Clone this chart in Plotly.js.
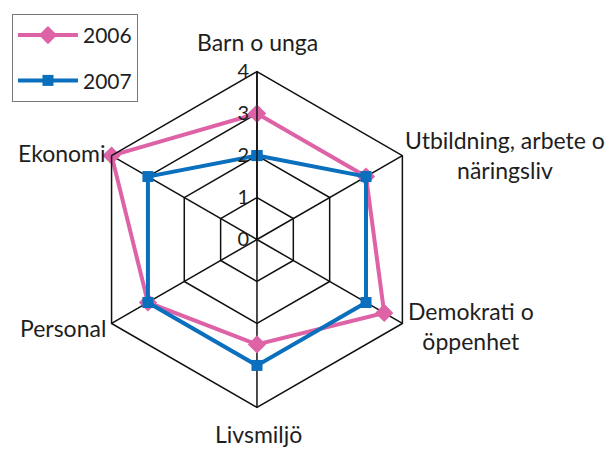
<!DOCTYPE html>
<html><head><meta charset="utf-8">
<script src="https://cdn.plot.ly/plotly-3.0.1.min.js"></script>
<style>html,body{margin:0;padding:0;background:#fff}#c{width:608px;height:450px}</style>
</head><body><div id="c"></div>
<script>
const categories = ["Barn o unga", "Utbildning, arbete o<br>näringsliv", "Demokrati o<br>öppenhet", "Livsmiljö", "Personal", "Ekonomi"];
const values2006 = [3, 3, 3.5, 2.5, 3, 4];
const values2007 = [2, 3, 3, 3, 3, 3];
const radialTicks = [0, 1, 2, 3, 4];

const close = a => a.concat([a[0]]);
const traces = [
  {type:'scatterpolar', name:'2006', legendgroup:'a', r:close(values2006), theta:close(categories), mode:'lines+markers',
   line:{color:'#DD62A6', width:4}, marker:{symbol:'diamond', size:14, color:'#DD62A6'}},
  {type:'scatterpolar', name:'2007', legendgroup:'b', r:close(values2007), theta:close(categories), mode:'lines+markers',
   line:{color:'#0A6FBD', width:4}, marker:{symbol:'square', size:11, color:'#0A6FBD'}}
];

// category label placement (paper coords) for the six angular categories
const labelPos = [
  {x:257, y:42, xa:'center'},
  {x:505, y:155, xa:'center'},
  {x:471, y:326, xa:'center'},
  {x:258, y:434, xa:'center'},
  {x:108, y:328, xa:'right'},
  {x:108, y:153, xa:'right'}
];
const annotations = categories.map((c, i) => ({
  text:c, xref:'paper', yref:'paper', x:labelPos[i].x/608, y:1-labelPos[i].y/450,
  xanchor:labelPos[i].xa, yanchor:'middle', align:'center', showarrow:false,
  font:{size:23, color:'#1e1e1e'}
}));

const layout = {
  width:608, height:450, margin:{l:0,r:0,t:0,b:0}, paper_bgcolor:'#fff',
  font:{family:'Lato, "Open Sans", sans-serif', size:21, color:'#1e1e1e'},
  showlegend:true,
  legend:{x:0.0197, y:0.969, xanchor:'left', yanchor:'top', bordercolor:'#777', borderwidth:1,
    font:{size:21, color:'#1e1e1e'}, itemwidth:60, tracegroupgap:15, bgcolor:'#fff'},
  annotations:annotations,
  polar:{
    domain:{x:[0.1465,0.6988], y:[0.0911,0.8444]},
    bgcolor:'#fff', gridshape:'linear',
    radialaxis:{range:[0,4], tickvals:radialTicks, ticktext:radialTicks.map(String), angle:90, tickangle:90,
      showline:true, linecolor:'#111', linewidth:1.5, gridcolor:'#111', gridwidth:1.5,
      ticks:'', tickfont:{size:20, color:'#1e1e1e'}, side:'counterclockwise'},
    angularaxis:{rotation:90, direction:'clockwise', showline:true, linecolor:'#111', linewidth:1.5,
      gridcolor:'#111', gridwidth:1.5, ticks:'', showticklabels:false}
  }
};
Plotly.newPlot('c', traces, layout, {displayModeBar:false, staticPlot:true});
</script></body></html>
